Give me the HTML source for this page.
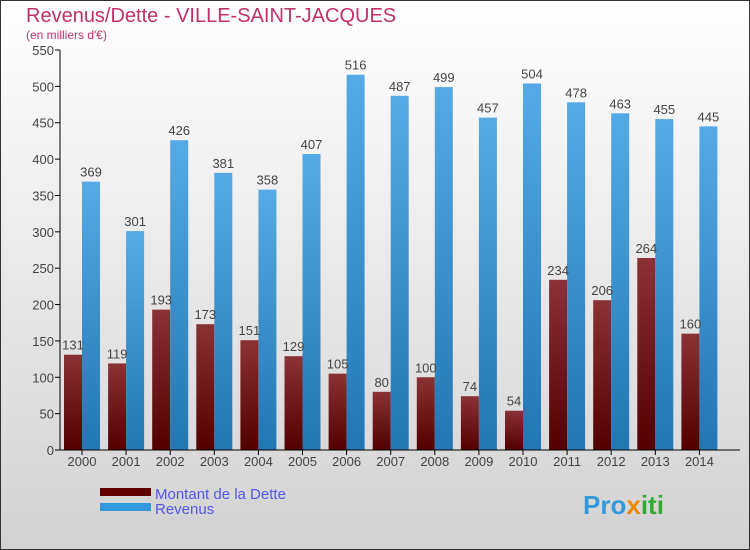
<!DOCTYPE html>
<html><head><meta charset="utf-8"><style>
body{margin:0}
#c{position:relative;width:750px;height:550px;overflow:hidden;font-family:"Liberation Sans",sans-serif}
</style></head><body>
<div id="c">
<svg width="750" height="550" xmlns="http://www.w3.org/2000/svg" id="svg">
<defs>
<linearGradient id="bg" x1="0" y1="0" x2="0" y2="1"><stop offset="0" stop-color="#ffffff"/><stop offset="1" stop-color="#d2d2d2"/></linearGradient>
<linearGradient id="gd" x1="0" y1="0" x2="0" y2="1"><stop offset="0" stop-color="#8a3236"/><stop offset="1" stop-color="#520000"/></linearGradient>
<linearGradient id="gr" x1="0" y1="0" x2="0" y2="1"><stop offset="0" stop-color="#55a9e4"/><stop offset="1" stop-color="#2277b3"/></linearGradient>
</defs>
<rect x="0.5" y="0.5" width="749" height="549" fill="url(#bg)" stroke="#333"/>
<text x="26" y="22" font-size="20" fill="#c0306a">Revenus/Dette - VILLE-SAINT-JACQUES</text>
<text x="26" y="39" font-size="12" fill="#c0306a">(en milliers d'€)</text>
<g id="plot"></g>
<rect x="100" y="488" width="51" height="8" fill="#600000"/>
<rect x="100" y="503" width="51" height="8" fill="#3399dd"/>
<text x="155" y="499" font-size="15" fill="#5555ee">Montant de la Dette</text>
<text x="155" y="514" font-size="15" fill="#5555ee">Revenus</text>
<text x="583" y="514" font-size="26" font-weight="bold" fill="#3399dd">Pro<tspan fill="#ee8800">x</tspan><tspan fill="#33aa33">iti</tspan></text>
</svg>
</div>
<script>
const years=["2000","2001","2002","2003","2004","2005","2006","2007","2008","2009","2010","2011","2012","2013","2014"];
const dette=[131,119,193,173,151,129,105,80,100,74,54,234,206,264,160];
const revenus=[369,301,426,381,358,407,516,487,499,457,504,478,463,455,445];
const yTicks=[0,50,100,150,200,250,300,350,400,450,500,550];
const NS="http://www.w3.org/2000/svg";
const g=document.getElementById('plot');
const y0=450,ppu=400/550,x0=64,step=44.1,bw=18;
const Y=v=>y0-v*ppu;
const X=i=>x0+step*i;
function el(t,a){const e=document.createElementNS(NS,t);for(const k in a)e.setAttribute(k,a[k]);g.appendChild(e);return e;}
yTicks.forEach(v=>{
  const l=el('line',{x1:55,x2:60,y1:Y(v),y2:Y(v),stroke:'#000'});
  
  
  const t=el('text',{x:54,y:Y(v)+5,'font-size':13,'text-anchor':'end',fill:'#444'});
  t.textContent=v;
  
  
});
years.forEach((yr,i)=>{
  const d=el('rect',{x:X(i),y:Y(dette[i]),width:bw,height:dette[i]*ppu,fill:'url(#gd)'});
  
  
  const r=el('rect',{x:X(i)+bw,y:Y(revenus[i]),width:bw,height:revenus[i]*ppu,fill:'url(#gr)'});
  
  
  const td=el('text',{x:X(i)+bw/2,y:Y(dette[i])-5,'font-size':13,'text-anchor':'middle',fill:'#444'});
  td.textContent=dette[i];
  
  
  const tr=el('text',{x:X(i)+bw*1.5,y:Y(revenus[i])-5,'font-size':13,'text-anchor':'middle',fill:'#444'});
  tr.textContent=revenus[i];
  
  
  const tk=el('line',{x1:X(i)+bw,x2:X(i)+bw,y1:450,y2:455,stroke:'#000'});
  
  
  const tx=el('text',{x:X(i)+bw,y:466,'font-size':13,'text-anchor':'middle',fill:'#444'});
  tx.textContent=yr;
  
  
});
const ya=el('line',{x1:60,x2:60,y1:50,y2:450,stroke:'#000'});


const xa=el('line',{x1:60,x2:740,y1:450,y2:450,stroke:'#000'});


</script>
</body></html>
